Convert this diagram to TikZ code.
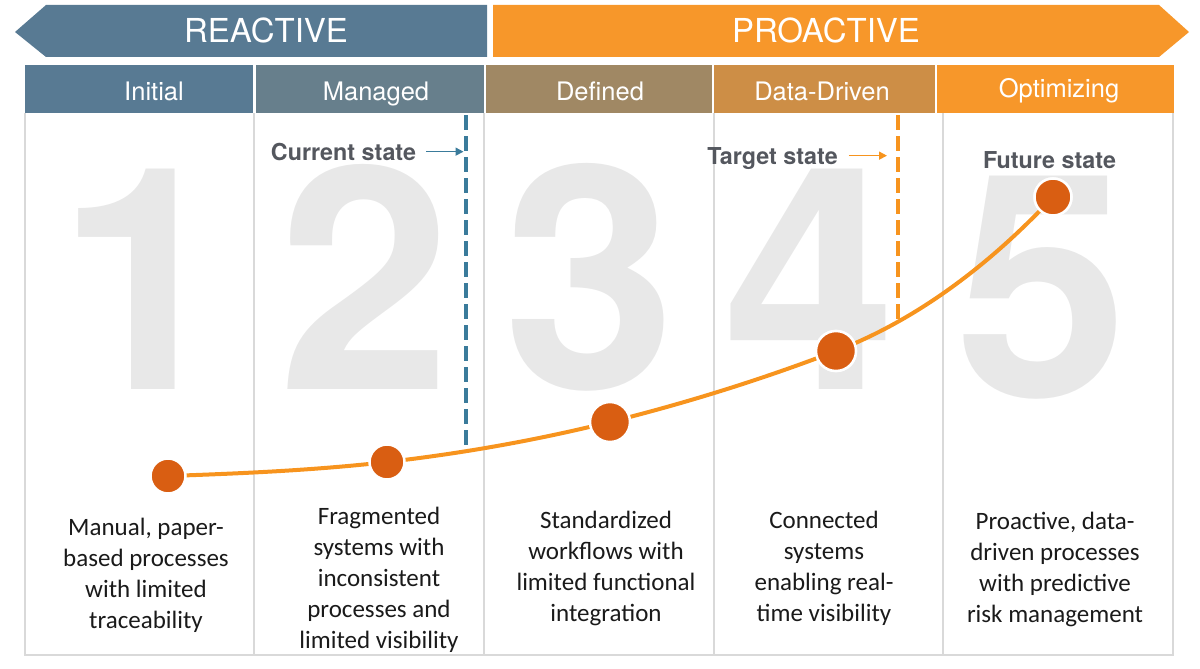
\documentclass[tikz,border=0pt]{standalone}
\usepackage{fontspec}
\setmainfont{Carlito}
\newfontfamily\heros{TeX Gyre Heros}
\usetikzlibrary{arrows.meta}
\definecolor{cInit}{HTML}{587A93}
\definecolor{cMan}{HTML}{677F8C}
\definecolor{cDef}{HTML}{A08864}
\definecolor{cData}{HTML}{CD8E46}
\definecolor{cOpt}{HTML}{F7972A}
\definecolor{cDot}{HTML}{D95E12}
\definecolor{cCurve}{HTML}{F7941E}
\definecolor{cBlue}{HTML}{3A7B9B}
\definecolor{cDigit}{HTML}{E8E8E8}
\definecolor{cGrid}{HTML}{D9D9D9}
\definecolor{cLbl}{HTML}{54575E}
\definecolor{cText}{HTML}{1A1A1A}
\begin{document}
\begin{tikzpicture}[x=1pt,y=-1pt,
  hdrcell/.style={inner sep=0pt, minimum height=48pt},
  hdrtxt/.style={inner sep=0pt, anchor=base, text=white,
    font=\heros\fontsize{25.5pt}{30pt}\selectfont},
  toplbl/.style={inner sep=0pt, text=white,
    font=\heros\fontsize{33pt}{38pt}\selectfont, text height=23.6pt, text depth=0pt},
  digit/.style={inner sep=0pt, text=cDigit, anchor=base,
    font=\heros\bfseries\fontsize{311pt}{311pt}\selectfont},
  grid/.style={draw=cGrid, line width=1.5pt},
  curve/.style={draw=cCurve, line width=4pt},
  dot/.style={circle, inner sep=0pt, fill=cDot, draw=white, line width=2.5pt},
  bluedash/.style={draw=cBlue, line width=4pt, dash pattern=on 15pt off 6pt},
  orangedash/.style={draw=cCurve, line width=4.5pt, dash pattern=on 15pt off 6pt},
  statelbl/.style={inner sep=0pt, anchor=base, text=cLbl,
    font=\heros\bfseries\fontsize{23.3pt}{28pt}\selectfont, text height=16.7pt, text depth=0pt},
  stateArrow/.style={line width=1.6pt, -{Triangle[length=8pt,width=8pt]}},
  desc/.style={inner sep=0pt, align=center, text=cText,
    font=\fontsize{25pt}{31pt}\selectfont}
]
\useasboundingbox (0,0) rectangle (1200,669);

% top arrows
\fill[cInit] (15,32) -- (46,5) -- (487,5) -- (487,57) -- (46,57) -- cycle;
\fill[cOpt] (493,5) -- (1159,5) -- (1189,32) -- (1159,57) -- (493,57) -- cycle;
\node[toplbl] (reac) at (266,31) {REACTIVE};
\node[toplbl] (proac) at (826,31) {PROACTIVE};

% header cells
\node[hdrcell, fill=cInit, minimum width=228pt] (h1) at (139,89) {};
\node[hdrcell, fill=cMan, minimum width=227.5pt] (h2) at (369.75,89) {};
\node[hdrcell, fill=cDef, minimum width=226pt] (h3) at (599,89) {};
\node[hdrcell, fill=cData, minimum width=220.5pt] (h4) at (824.25,89) {};
\node[hdrcell, fill=cOpt, minimum width=237pt] (h5) at (1055.5,89) {};
\node[hdrtxt] (h1t) at (154,100) {Initial};
\node[hdrtxt] (h2t) at (376,100) {Managed};
\node[hdrtxt] (h3t) at (600,100) {Defined};
\node[hdrtxt] (h4t) at (822,100) {Data-Driven};
\node[hdrtxt] (h5t) at (1059,97) {Optimizing};

% big digits
\node[digit] (n1) at (144,389) {1};
\node[digit] (n2) at (364.5,389) {2};
\node[digit] (n3) at (589.5,388) {3};
\node[digit] (n4) at (809.5,389) {4};
\node[digit] (n5) at (1042,396) {5};

% grid
\draw[grid] (25,113) -- (25,655) -- (1173,655) -- (1173,113);
\draw[grid] (254,113) -- (254,655);
\draw[grid] (484,113) -- (484,655);
\draw[grid] (714,113) -- (714,655);
\draw[grid] (943,113) -- (943,655);

% dashed state lines
\coordinate (cT) at (466,115);
\coordinate (cB) at (466,450);
\draw[bluedash] (cT) -- (cB);
\coordinate (tT) at (898,115);
\coordinate (tB) at (898,324);
\draw[orangedash] (tT) -- (tB);

% dots (positions)
\node[dot, minimum size=35pt] (d1) at (168,476) {};
\node[dot, minimum size=35pt] (d2) at (387,462) {};
\node[dot, minimum size=40pt] (d3) at (610,422) {};
\node[dot, minimum size=40pt] (d4) at (836,351) {};
\node[dot, minimum size=37pt] (d5) at (1053,197) {};

% maturity curve
\draw[curve] (d1.center) .. controls (241,473.5) and (314.5,470.3) .. (d2.center)
  .. controls (461.5,453.5) and (537.2,440.1) .. (d3.center)
  .. controls (686.7,402.9) and (762.2,379.3) .. (d4.center)
  .. controls (919,319.1) and (992.3,262.1) .. (d5.center);
% dots on top of the curve
\node[dot, minimum size=35pt] at (d1) {};
\node[dot, minimum size=35pt] at (d2) {};
\node[dot, minimum size=40pt] at (d3) {};
\node[dot, minimum size=40pt] at (d4) {};
\node[dot, minimum size=37pt] at (d5) {};

% state labels
\node[statelbl] (cur) at (343.5,160) {Current state};
\draw[stateArrow, draw=cBlue, fill=cBlue, shorten >=2.5pt] ([xshift=10pt]cur.east) -- (cur.east -| cT);
\node[statelbl] (tgt) at (772.5,164) {Target state};
\draw[stateArrow, draw=cCurve, fill=cCurve, shorten >=11pt] ([xshift=11pt]tgt.east) -- (tgt.east -| tT);
\node[statelbl] (fut) at (1049.5,168) {Future state};

% descriptions
\node[desc] (t1) at (146,575.5) {Manual, paper-\\based processes\\with limited\\traceability};
\node[desc] (t2) at (379,580) {Fragmented\\systems with\\inconsistent\\processes and\\limited visibility};
\node[desc] (t3) at (606,568.5) {Standardized\\workflows with\\limited functional\\integration};
\node[desc] (t4) at (824,568.5) {Connected\\systems\\enabling real-\\time visibility};
\node[desc] (t5) at (1055,569.5) {Proactive, data-\\driven processes\\with predictive\\risk management};
\end{tikzpicture}
\end{document}
